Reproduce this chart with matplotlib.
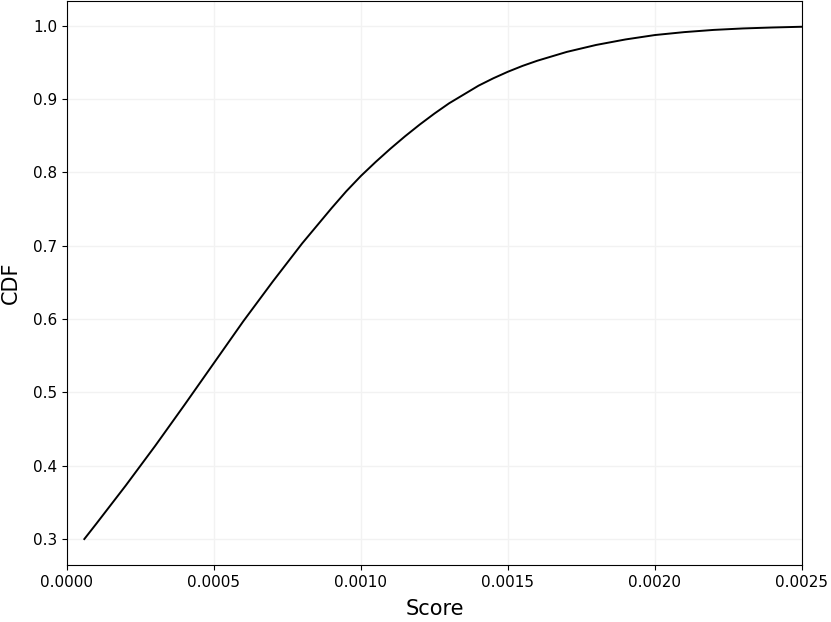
import matplotlib
matplotlib.use("Agg")
import matplotlib.pyplot as plt

# values
score = [0.000059, 0.0001, 0.0002, 0.0003, 0.0004, 0.0005, 0.0006,
         0.0007, 0.0008, 0.00085, 0.0009, 0.00095, 0.0010, 0.00105, 0.0011,
         0.00115, 0.0012, 0.00125, 0.0013, 0.00135, 0.0014, 0.00145, 0.0015,
         0.00155, 0.0016, 0.00165, 0.0017, 0.0018, 0.0019, 0.0020, 0.0021,
         0.0022, 0.0023, 0.0024, 0.0025]
cdf = [0.300, 0.321, 0.373, 0.427, 0.483, 0.540, 0.597,
       0.651, 0.703, 0.727, 0.751, 0.774, 0.795, 0.814, 0.832,
       0.849, 0.865, 0.880, 0.894, 0.906, 0.918, 0.928, 0.937,
       0.945, 0.952, 0.958, 0.964, 0.9735, 0.981, 0.987, 0.991,
       0.994, 0.996, 0.9973, 0.9983]

fig = plt.figure(figsize=(8.31, 6.22), dpi=100)
ax = fig.add_axes([0.0806, 0.0916, 0.8844, 0.9075])

ax.plot(score, cdf, color="black", lw=1.4)

ax.set_xlim(0, 0.0025)
ax.set_ylim(0.2646, 1.034)
ax.set_xticks([0.0, 0.0005, 0.001, 0.0015, 0.002, 0.0025])
ax.set_xticklabels(["0.0000", "0.0005", "0.0010", "0.0015", "0.0020", "0.0025"])
ax.set_yticks([0.3, 0.4, 0.5, 0.6, 0.7, 0.8, 0.9, 1.0])
ax.grid(color="#f2f2f2", lw=1)
ax.tick_params(labelsize=11)

ax.set_xlabel("Score", fontsize=15, labelpad=7)
ax.set_ylabel("CDF", fontsize=15, labelpad=9)

plt.savefig("out.png")
